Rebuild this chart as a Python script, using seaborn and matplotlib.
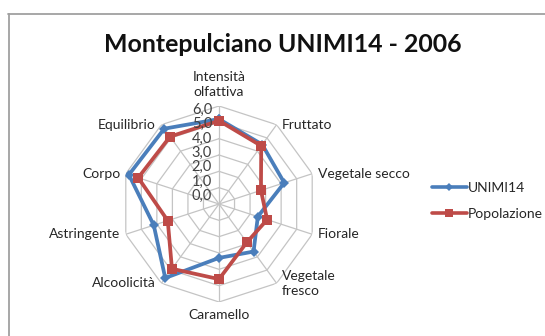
import numpy as np
import matplotlib
matplotlib.use("Agg")
import matplotlib.pyplot as plt
import seaborn as sns
import pandas as pd

sns.set_theme(style="white")
plt.rcParams['font.family'] = ['Lato', 'DejaVu Sans']

categories = ["Intensità\nolfattiva", "Fruttato", "Vegetale secco", "Fiorale",
              "Vegetale\nfresco", "Caramello", "Alcoolicità", "Astringente",
              "Corpo", "Equilibrio"]
unimi14 = [5.2, 4.5, 4.2, 2.5, 3.6, 3.3, 5.6, 4.2, 5.8, 5.7]
popolazione = [5.1, 4.4, 2.7, 3.1, 2.9, 4.6, 4.9, 3.3, 5.2, 5.1]
r_ticks = [0, 1, 2, 3, 4, 5, 6]
r_tick_labels = ["0,0", "1,0", "2,0", "3,0", "4,0", "5,0", "6,0"]
series_names = ["UNIMI14", "Popolazione"]
title = "Montepulciano UNIMI14 - 2006"

n = len(categories)
angles = np.linspace(0, 2 * np.pi, n, endpoint=False)

fig = plt.figure(figsize=(5.45, 3.36), dpi=100)
# border lines (top and left)
fig.add_artist(plt.Line2D([8/545, 1], [1 - 14/336, 1 - 14/336], color="#a0a0a0", lw=1.3, transform=fig.transFigure))
fig.add_artist(plt.Line2D([8.5/545, 8.5/545], [0, 1 - 14/336], color="#a0a0a0", lw=1.3, transform=fig.transFigure))

cx, cy, R = 219, 204, 98
ax = fig.add_axes([(cx - R)/545, (336 - cy - R)/336, 2*R/545, 2*R/336], projection="polar")
ax.set_theta_zero_location("N")
ax.set_theta_direction(-1)
ax.set_ylim(0, 6)
ax.grid(False)
ax.set_xticks([])
ax.set_yticks([])
ax.spines['polar'].set_visible(False)
ax.set_facecolor("none")

grid_col = "#c4c4c4"
closed = np.append(angles, angles[0])
for lvl in r_ticks[1:]:
    ax.plot(closed, [lvl] * (n + 1), color=grid_col, lw=0.9, zorder=1)
for a in angles:
    ax.plot([a, a], [0, 6], color=grid_col, lw=0.9, zorder=1)

df = pd.DataFrame({
    "angle": np.concatenate([closed, closed]),
    "value": unimi14 + [unimi14[0]] + popolazione + [popolazione[0]],
    "series": [series_names[0]] * (n + 1) + [series_names[1]] * (n + 1),
})
colors = {"UNIMI14": "#4a7ebb", "Popolazione": "#be4b48"}
markers = {"UNIMI14": "D", "Popolazione": "s"}
msize = {"UNIMI14": 5.5, "Popolazione": 7.5}
handles = []
for s in series_names:
    d = df[df.series == s]
    sns.lineplot(data=d, x="angle", y="value", sort=False, ax=ax, color=colors[s],
                 lw=2.7, marker=markers[s], markersize=msize[s], markeredgewidth=0,
                 estimator=None, zorder=3, legend=False)
    handles.append(plt.Line2D([], [], color=colors[s], lw=2.6, marker=markers[s],
                              markersize=msize[s] * 0.8, markeredgewidth=0))
ax.set_xlabel("")
ax.set_ylabel("")

for lvl, lab in zip(r_ticks, r_tick_labels):
    dy_px = 8 - 2 * lvl
    ax.annotate(lab, xy=(0, lvl), xytext=(-5, dy_px * 0.72), textcoords="offset points",
                ha="right", va="center", fontsize=10.5, color="#404040")

for a, lab in zip(angles, categories):
    deg = np.degrees(a) % 360
    if deg < 1:
        ha, va, off = "center", "bottom", (0, 6)
    elif abs(deg - 180) < 1:
        ha, va, off = "center", "top", (0, -5)
    elif deg < 180:
        ha, va, off = "left", "center", (4, 0)
    else:
        ha, va, off = "right", "center", (-4, 0)
    ax.annotate(lab, xy=(a, 6), xytext=off, textcoords="offset points",
                ha=ha, va=va, fontsize=10, color="#262626", linespacing=1.25)

fig.text(283/545, 1 - 45/336, title, ha="center", va="center", fontsize=17.9, fontweight="bold", color="#111111")

fig.legend(handles, series_names, loc="center left", bbox_to_anchor=(432/545, 1 - 201/336),
           frameon=False, fontsize=10, handlelength=2.5, handletextpad=0.1, labelspacing=1.0,
           borderpad=0, borderaxespad=0)

fig.savefig("out.png", dpi=100, facecolor="white")
